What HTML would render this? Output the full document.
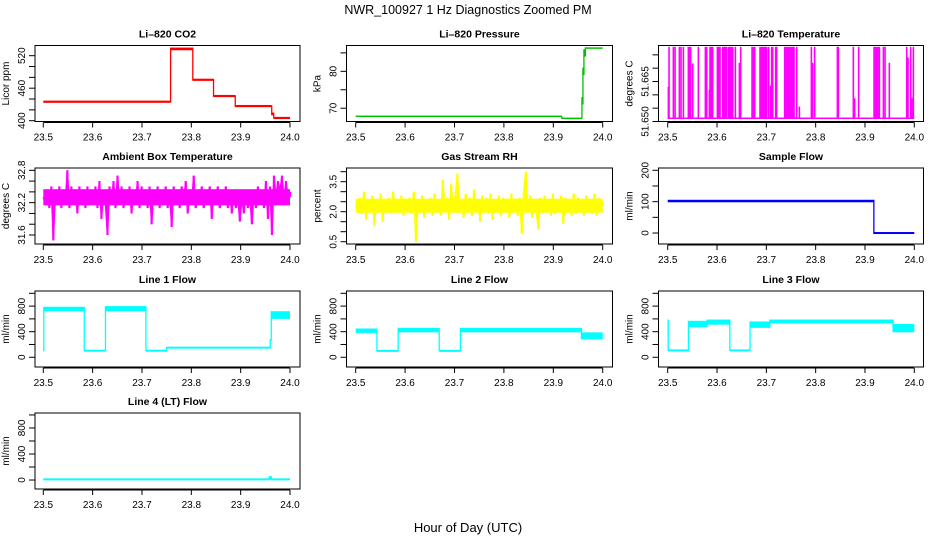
<!DOCTYPE html>
<html><head><meta charset="utf-8"><style>
html,body{margin:0;padding:0;background:#fff;}
svg{display:block;font-family:"Liberation Sans",Arial,sans-serif;}
</style></head><body>
<svg id="chart" width="936" height="540" viewBox="0 0 936 540" xmlns="http://www.w3.org/2000/svg">
<text x="468" y="14" text-anchor="middle" font-size="12.5">NWR_100927  1 Hz Diagnostics Zoomed PM</text>
<text x="468" y="532" text-anchor="middle" font-size="13">Hour of Day (UTC)</text>
</svg>
<script>
// ---- data ----
const xTicks = [23.5, 23.6, 23.7, 23.8, 23.9, 24.0];
const xTickLabels = ["23.5", "23.6", "23.7", "23.8", "23.9", "24.0"];

const co2T0 = [23.5, 23.758, 23.803, 23.845, 23.889, 23.963, 23.967];
const co2T1 = [23.758, 23.803, 23.845, 23.889, 23.963, 23.967, 24.0];
const co2Lo = [434, 530, 474, 444, 426, 410, 404];
const co2Hi = [436, 535, 477, 447, 428, 415, 406];

const presT0 = [23.5, 23.917, 23.958, 23.960, 23.962, 23.965];
const presT1 = [23.917, 23.958, 23.960, 23.962, 23.965, 24.0];
const presLo = [67.7, 67.2, 71, 79, 84, 86.1];
const presHi = [67.9, 67.3, 73, 81, 86, 86.5];

const tempBase = 51.6512;
const tempSpikeT = [23.5014,23.5027,23.5115,23.5149,23.5237,23.5270,23.5318,23.5419,23.5439,23.5466,23.5507,23.5622,23.5764,23.5791,23.5845,23.5858,23.5885,23.5912,23.6007,23.6034,23.6061,23.6115,23.6142,23.6169,23.6196,23.6237,23.6264,23.6291,23.6318,23.6372,23.6453,23.6480,23.6710,23.6737,23.6764,23.6872,23.6899,23.6926,23.6953,23.6980,23.7007,23.7048,23.7088,23.7109,23.7129,23.7190,23.7210,23.7372,23.7399,23.7426,23.7453,23.7480,23.7507,23.7534,23.7561,23.7616,23.7670,23.7913,23.7940,23.7980,23.8440,23.8460,23.8764,23.8791,23.8872,23.9184,23.9211,23.9238,23.9265,23.9292,23.9373,23.9407,23.9494,23.9846,23.9873,23.9927,23.9954,23.9981];
const tempSpikeV = [51.663,51.678,51.678,51.678,51.678,51.678,51.678,51.678,51.678,51.678,51.6718,51.678,51.678,51.678,51.6618,51.678,51.678,51.678,51.678,51.678,51.678,51.678,51.678,51.678,51.678,51.678,51.678,51.678,51.678,51.678,51.672,51.678,51.678,51.678,51.678,51.678,51.678,51.678,51.678,51.678,51.678,51.678,51.6635,51.678,51.678,51.678,51.678,51.678,51.678,51.678,51.678,51.678,51.678,51.678,51.678,51.678,51.6556,51.678,51.672,51.678,51.678,51.678,51.678,51.6587,51.678,51.678,51.678,51.678,51.678,51.678,51.678,51.678,51.672,51.678,51.674,51.678,51.6587,51.678];

const ambCenter = 32.3;
const ambBand = [32.15, 32.45];
const ambVals = [32.3,32.2,32.4,32.1,32.5,31.5,32.4,32.2,32.5,32.1,32.4,32.2,32.8,32.1,32.5,32.2,32.4,32.0,32.5,32.2,32.4,32.1,32.5,32.2,32.4,32.2,32.5,32.1,32.6,31.9,32.4,32.2,31.6,32.5,32.2,32.6,32.1,32.7,32.2,32.5,32.1,32.4,32.2,32.5,32.0,32.4,32.2,32.6,32.1,32.5,32.2,32.4,32.1,32.5,31.8,32.4,32.2,32.5,32.1,32.4,32.2,32.5,32.1,32.4,31.75,32.5,32.2,32.4,32.1,32.5,32.2,32.6,32.0,32.4,32.2,32.7,32.1,32.4,32.2,32.5,32.1,32.4,32.2,32.5,31.9,32.4,32.2,32.5,32.1,32.4,32.2,32.5,32.1,32.4,32.0,32.4,32.1,32.3,31.85,32.3,32.0,32.4,32.1,32.3,31.8,32.4,32.1,32.5,32.2,32.4,32.1,32.6,31.9,32.5,31.6,32.7,32.3,32.6,32.4,32.7,32.2,32.6,32.3,32.4];

const rhCenter = 2.3;
const rhBand = [1.95, 2.65];
const rhVals = [2.3,2.0,2.7,1.9,3.0,1.6,2.6,2.0,2.8,1.3,2.5,2.1,2.9,1.5,2.6,2.0,2.7,1.9,3.0,2.1,2.6,2.0,2.8,1.8,2.6,2.1,2.7,1.9,3.0,0.5,2.6,2.0,2.8,1.7,2.5,2.1,2.7,1.8,2.9,2.0,2.6,1.8,3.6,2.0,2.7,1.6,3.4,2.0,2.8,3.9,2.1,2.6,1.7,2.9,2.0,2.7,1.8,3.1,2.0,2.6,1.5,2.8,2.0,2.7,1.9,2.9,1.6,2.6,2.0,2.8,1.8,2.7,2.1,2.6,1.7,2.9,2.0,2.6,1.8,2.7,0.9,3.0,4.0,2.0,2.8,1.7,2.6,2.0,1.1,2.7,1.9,2.8,2.0,2.6,1.8,2.9,1.9,2.6,2.0,2.8,1.4,2.7,2.0,2.6,1.8,2.9,1.9,2.7,2.1,2.6,1.8,2.8,2.0,2.6,1.9,2.9,1.8,2.7,2.1,2.5];

const sampT0 = [23.5, 23.918];
const sampT1 = [23.918, 24.0];
const sampLo = [98, -3];
const sampHi = [106, 3];

const l1T0 = [23.5, 23.501, 23.583, 23.626, 23.708, 23.75, 23.96, 23.962];
const l1T1 = [23.501, 23.583, 23.626, 23.708, 23.75, 23.96, 23.962, 24.0];
const l1Lo = [100, 720, 95, 720, 95, 140, 260, 600];
const l1Hi = [120, 790, 110, 800, 110, 160, 280, 720];

const l2T0 = [23.5, 23.543, 23.586, 23.669, 23.712, 23.957];
const l2T1 = [23.543, 23.586, 23.669, 23.712, 23.957, 24.0];
const l2Lo = [380, 95, 390, 95, 390, 280];
const l2Hi = [450, 105, 460, 105, 460, 390];

const l3T0 = [23.5, 23.501, 23.542, 23.58, 23.626, 23.667, 23.707, 23.957];
const l3T1 = [23.501, 23.542, 23.58, 23.626, 23.667, 23.707, 23.957, 24.0];
const l3Lo = [300, 100, 470, 510, 100, 460, 530, 390];
const l3Hi = [590, 115, 570, 590, 115, 560, 590, 520];

const l4T0 = [23.5, 23.958, 23.962];
const l4T1 = [23.958, 23.962, 24.0];
const l4Lo = [0, 5, 0];
const l4Hi = [20, 60, 20];

// ---- layout ----
const NS = "http://www.w3.org/2000/svg";
const svg = document.getElementById("chart");
const colL = [35, 346.5, 658.5], colR = [300, 612.5, 923.5];
const colX0 = [43.3, 355.7, 667.7], colX1 = [290, 602.7, 914.3];
const rowT = [45.5, 168, 291, 413], rowB = [121.5, 244, 367, 489];

function mk(tag, attrs, parent) {
  const e = document.createElementNS(NS, tag);
  for (const k in attrs) e.setAttribute(k, attrs[k]);
  (parent || svg).appendChild(e);
  return e;
}

function panel(key, c, r, title, ylab, ylim, ticks, labels) {
  const g = mk("g", {});
  
  
  const L = colL[c], R = colR[c], T = rowT[r], B = rowB[r];
  const sx = t => colX0[c] + (t - 23.5) / 0.5 * (colX1[c] - colX0[c]);
  const sy = v => B - (v - ylim[0]) / (ylim[1] - ylim[0]) * (B - T);
  const box = mk("rect", {x: L, y: T, width: R - L, height: B - T, fill: "none", stroke: "#000", "stroke-width": 1}, g);
  
  
  const tt = mk("text", {x: (L + R) / 2, y: T - 8, "text-anchor": "middle", "font-size": 10.5, "font-weight": "bold"}, g);
  tt.textContent = title;
  
  
  const yl = mk("text", {x: 0, y: 0, "text-anchor": "middle", "font-size": 10, transform: `translate(${L - 26},${(T + B) / 2}) rotate(-90)`}, g);
  yl.textContent = ylab;
  
  
  const xa = mk("g", {}, g);
  
  
  mk("line", {x1: sx(xTicks[0]), x2: sx(xTicks[xTicks.length - 1]), y1: B + 1, y2: B + 1, stroke: "#000"}, xa);
  xTicks.forEach((t, i) => {
    mk("line", {x1: sx(t), x2: sx(t), y1: B + 1, y2: B + 6, stroke: "#000"}, xa);
    const lb = mk("text", {x: sx(t), y: B + 19, "text-anchor": "middle", "font-size": 10}, xa);
    lb.textContent = xTickLabels[i];
    
    
  });
  const ya = mk("g", {}, g);
  
  
  ticks.forEach(v => {
    mk("line", {x1: L - 6, x2: L, y1: sy(v), y2: sy(v), stroke: "#000"}, ya);
  });
  labels.forEach(lbl => {
    const t = mk("text", {x: 0, y: 0, "text-anchor": "middle", "font-size": 10, transform: `translate(${L - 10},${sy(lbl[0])}) rotate(-90)`}, ya);
    t.textContent = lbl[1];
    
    
  });
  return {g, sx, sy};
}

function segSeries(p, key, color, T0, T1, Lo, Hi, sw) {
  const g = mk("g", {}, p.g);
  
  
  for (let i = 0; i < T0.length; i++) {
    const x0 = p.sx(T0[i]), x1 = p.sx(T1[i]);
    let yT = p.sy(Hi[i]), yB = p.sy(Lo[i]);
    if (yB - yT < sw) { const m = (yT + yB) / 2; yT = m - sw / 2; yB = m + sw / 2; }
    const rc = mk("rect", {x: x0, y: yT, width: Math.max(x1 - x0, 1), height: yB - yT, fill: color}, g);
    
    
    if (i + 1 < T0.length) {
      const ya = Math.min(p.sy(Hi[i]), p.sy(Hi[i + 1])), yb = Math.max(p.sy(Lo[i]), p.sy(Lo[i + 1]));
      mk("line", {x1: x1, x2: x1, y1: ya, y2: yb, stroke: color, "stroke-width": 1.3}, g);
    }
  }
}

function noisySeries(p, key, color, vals, center, band) {
  const g = mk("g", {}, p.g);
  
  
  const n = vals.length;
  const tx = i => p.sx(23.5 + 0.5 * i / (n - 1));
  const core = mk("rect", {x: tx(0), y: p.sy(band[1]), width: tx(n - 1) - tx(0), height: p.sy(band[0]) - p.sy(band[1]), fill: color}, g);
  
  
  vals.forEach((v, i) => {
    const s = mk("line", {x1: tx(i), x2: tx(i), y1: p.sy(center), y2: p.sy(v), stroke: color, "stroke-width": 2.2}, g);
    
    
  });
  const pts = vals.map((v, i) => tx(i).toFixed(2) + "," + p.sy(v).toFixed(2)).join(" ");
  mk("polyline", {points: pts, fill: "none", stroke: color, "stroke-width": 1.6}, g);
}

const p1 = panel("li820-co2", 0, 0, "Li\u2013820 CO2", "Licor ppm", [398.5, 538.8],
  [400, 420, 440, 460, 480, 500, 520], [[400, "400"], [460, "460"], [520, "520"]]);
segSeries(p1, "co2", "#ff0000", co2T0, co2T1, co2Lo, co2Hi, 2.2);

const p2 = panel("li820-pressure", 1, 0, "Li\u2013820 Pressure", "kPa", [66.4, 87],
  [70, 75, 80, 85], [[70, "70"], [80, "80"]]);
segSeries(p2, "pressure", "#00c000", presT0, presT1, presLo, presHi, 1.5);

const p3 = panel("li820-temperature", 2, 0, "Li\u2013820 Temperature", "degrees C", [51.650, 51.6785],
  [51.650, 51.655, 51.660, 51.665, 51.670, 51.675], [[51.650, "51.650"], [51.665, "51.665"]]);
(function () {
  const g = mk("g", {}, p3.g);
  
  
  mk("line", {x1: p3.sx(23.5), x2: p3.sx(24.0), y1: p3.sy(tempBase), y2: p3.sy(tempBase), stroke: "#ff00ff", "stroke-width": 1.5}, g);
  tempSpikeT.forEach((t, i) => {
    const sp = mk("line", {x1: p3.sx(t), x2: p3.sx(t), y1: p3.sy(tempBase), y2: p3.sy(tempSpikeV[i]), stroke: "#ff00ff", "stroke-width": 1.6}, g);
    
    
  });
})();

const p4 = panel("ambient-box-temperature", 0, 1, "Ambient Box Temperature", "degrees C", [31.433, 32.843],
  [31.6, 31.8, 32.0, 32.2, 32.4, 32.6, 32.8], [[31.6, "31.6"], [32.2, "32.2"], [32.8, "32.8"]]);
noisySeries(p4, "ambient-temperature", "#ff00ff", ambVals, ambCenter, ambBand);

const p5 = panel("gas-stream-rh", 1, 1, "Gas Stream RH", "percent", [0.385, 4.185],
  [0.5, 1.0, 1.5, 2.0, 2.5, 3.0, 3.5, 4.0], [[0.5, "0.5"], [2.0, "2.0"], [3.5, "3.5"]]);
noisySeries(p5, "gas-stream-rh", "#ffff00", rhVals, rhCenter, rhBand);

const p6 = panel("sample-flow", 2, 1, "Sample Flow", "ml/min", [-35, 207.3],
  [0, 50, 100, 150, 200], [[0, "0"], [100, "100"], [200, "200"]]);
segSeries(p6, "sample-flow", "#0000ff", sampT0, sampT1, sampLo, sampHi, 2);

const flowTicks = [0, 200, 400, 600, 800, 1000];
const flowLabels = [[0, "0"], [400, "400"], [800, "800"]];
const p7 = panel("line1-flow", 0, 2, "Line 1 Flow", "ml/min", [-152, 1036], flowTicks, flowLabels);
segSeries(p7, "line1-flow", "#00ffff", l1T0, l1T1, l1Lo, l1Hi, 2);
const p8 = panel("line2-flow", 1, 2, "Line 2 Flow", "ml/min", [-152, 1036], flowTicks, flowLabels);
segSeries(p8, "line2-flow", "#00ffff", l2T0, l2T1, l2Lo, l2Hi, 2);
const p9 = panel("line3-flow", 2, 2, "Line 3 Flow", "ml/min", [-152, 1036], flowTicks, flowLabels);
segSeries(p9, "line3-flow", "#00ffff", l3T0, l3T1, l3Lo, l3Hi, 2);
const p10 = panel("line4-flow", 0, 3, "Line 4 (LT) Flow", "ml/min", [-138, 1030], flowTicks, flowLabels);
segSeries(p10, "line4-flow", "#00ffff", l4T0, l4T1, l4Lo, l4Hi, 2);
</script>
</body></html>
